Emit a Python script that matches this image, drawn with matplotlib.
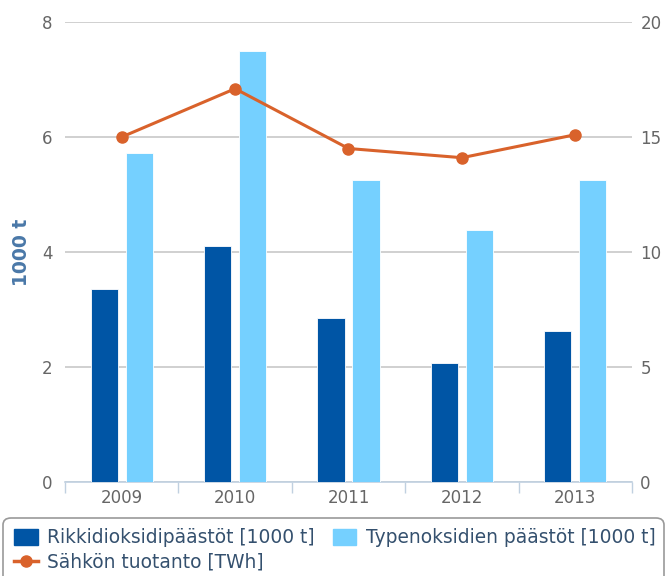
import numpy as np
import matplotlib.pyplot as plt
from matplotlib.patches import Patch, FancyBboxPatch
from matplotlib.lines import Line2D

years = ["2009", "2010", "2011", "2012", "2013"]
so2 = [3.35, 4.11, 2.86, 2.07, 2.62]
nox = [5.72, 7.50, 5.25, 4.39, 5.25]
power = [15.0, 17.1, 14.5, 14.1, 15.1]

DARK = "#0055a5"
LIGHT = "#75d0ff"
ORANGE = "#d9622b"
TXT = "#666666"

plt.rcParams["font.family"] = "DejaVu Sans"

fig = plt.figure(figsize=(6.67, 5.76), dpi=100)
ax = fig.add_axes([65 / 667, 94 / 576, 567 / 667, 460 / 576])
ax2 = ax.twinx()

x = np.arange(len(years))
w = 0.24
ax.bar(x - 0.155, so2, w, color=DARK, edgecolor="white", linewidth=0.6, zorder=3)
ax.bar(x + 0.155, nox, w, color=LIGHT, edgecolor="white", linewidth=0.6, zorder=3)

ax2.plot(x, power, color=ORANGE, lw=2.2, marker="o", ms=8, zorder=4)

ax.set_xlim(-0.5, len(years) - 0.5)
ax.set_ylim(0, 8)
ax2.set_ylim(0, 20)
ax.set_yticks([0, 2, 4, 6, 8])
ax2.set_yticks([0, 5, 10, 15, 20])

ax.set_xticks(x)
ax.set_xticklabels(years)
ax.set_xticks(np.arange(len(years) + 1) - 0.5, minor=True)
ax.tick_params(axis="x", which="major", length=0, pad=5, labelsize=12, labelcolor=TXT)
ax.tick_params(axis="x", which="minor", length=8, width=1, color="#c0d0e0")
ax.tick_params(axis="y", length=0, pad=9, labelsize=12, labelcolor=TXT)
ax2.tick_params(axis="y", length=0, pad=6, labelsize=12, labelcolor=TXT)

ax.grid(axis="y", color="#c8c8c8", lw=1.2, zorder=0)
ax.set_axisbelow(True)
for a in (ax, ax2):
    for s in ("top", "left", "right", "bottom"):
        a.spines[s].set_visible(False)
ax.spines["bottom"].set_visible(True)
ax.spines["bottom"].set_color("#c0d0e0")
ax.spines["bottom"].set_linewidth(1.2)

ax.set_ylabel("1000 t", color="#4a78a8", fontweight="bold", fontsize=13.5, labelpad=8)

# legend box (frame drawn separately so it spans the full width)
frame = FancyBboxPatch((3 / 667, -0.02), 661 / 667, 58 / 576 + 0.02,
                       boxstyle="round,pad=0,rounding_size=0.012",
                       transform=fig.transFigure, facecolor="white",
                       edgecolor="#999999", linewidth=1.2)
fig.patches.append(frame)

handles = [
    Patch(facecolor=DARK, edgecolor=DARK),
    Line2D([], [], color=ORANGE, lw=2.5, marker="o", ms=8),
    Patch(facecolor=LIGHT, edgecolor=LIGHT),
]
labels = ["Rikkidioksidipäästöt [1000 t]", "Sähkön tuotanto [TWh]",
          "Typenoksidien päästöt [1000 t]"]
leg = fig.legend(handles, labels, loc="upper left", ncol=2,
                 bbox_to_anchor=(4 / 667, 58 / 576),
                 fontsize=13.4, frameon=False,
                 handlelength=1.25, handleheight=0.9, handletextpad=0.5,
                 columnspacing=1.0, labelspacing=0.3, borderpad=0.55,
                 borderaxespad=0)
for t in leg.get_texts():
    t.set_color("#34506e")

fig.savefig("out.png", dpi=100)
